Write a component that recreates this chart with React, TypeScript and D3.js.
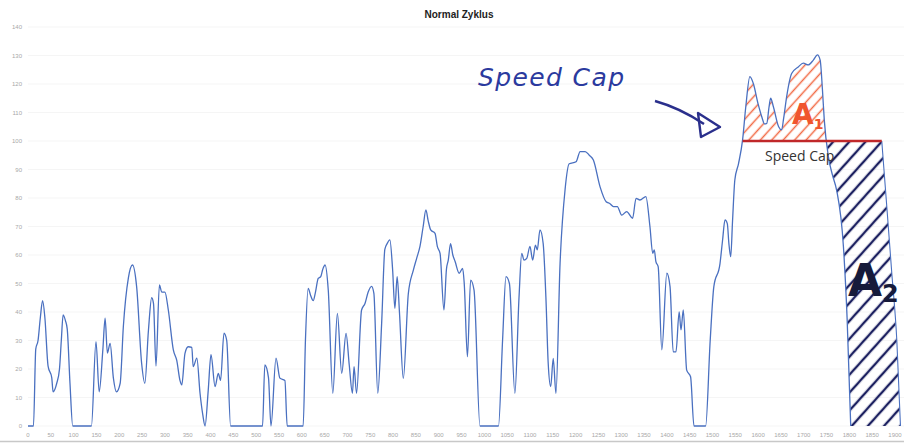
import React, { useEffect, useRef } from "react";
import * as d3 from "d3";

// speed trace, [time s, speed km/h], one array per phase
const LOW_PHASE: [number, number][] = [
  [0, 0], [12, 0], [17, 27], [22, 30], [27, 38], [32, 44], [37, 38], [44, 21], [52, 17], [55, 12],
  [63, 15], [69, 20], [73, 30], [77, 39], [82, 37], [86, 34], [92, 15], [98, 0], [139, 0], [149, 29.6],
  [156, 12], [164, 26.7], [169, 37.8], [174, 25.6], [180, 29], [187, 17], [194, 12], [202, 15], [209, 35],
  [220, 52], [229, 56.5], [238, 49], [249, 22], [256, 15], [264, 33.7], [271, 45], [275, 43], [280.5, 21],
  [288, 49.5], [293, 47], [300, 47], [307.5, 40.7], [318.5, 26.7], [326, 23], [333, 16], [337, 14.4],
  [344, 25.5], [351, 27.8], [359, 27.6], [362, 20.8], [370, 23.8], [377, 11.5], [383, 4], [388, 0],
  [395, 12.6], [401, 25], [410, 13.8], [417, 18.5], [422, 16], [429.5, 32.6], [435.5, 30], [444, 0],
  [514, 0], [519, 21.4], [527, 17], [532.5, 0], [543.5, 23.8], [552, 16.8], [563, 16], [568, 0], [589, 0],
];
const MEDIUM_PHASE: [number, number][] = [
  [603, 0], [608, 30], [614, 48.3], [619, 46], [625, 44], [630, 47], [636, 51.8], [641.5, 52.4], [646, 55],
  [651, 56.5], [658, 47.7], [668, 11.5], [678, 39.5], [687.5, 18.5], [697, 32.5], [704, 21.4], [711, 11.5],
  [714.5, 20.8], [720, 11.5], [731, 40.7], [738.5, 43], [745.5, 47], [753, 49], [758, 46.5], [766.5, 11.5],
  [775, 36], [782, 62], [787, 64], [793, 65.3], [799, 55], [804, 41.3], [809, 52.4], [814, 40], [822.5, 16.7],
  [833.5, 46.5], [844.5, 54.7], [852, 59], [859, 63], [866, 70], [872, 75.8], [877, 72], [882.5, 68.8],
  [892, 67.6], [897, 63], [903, 60.6], [911.5, 40.7], [917, 55], [921, 58.2], [926, 64], [931, 60],
  [936, 57.7], [945, 53.6], [952.5, 55.3], [956, 50], [963, 24.3], [970, 51.2], [977.5, 47.7], [990.5, 0],
  [1022, 0],
];
const HIGH_PHASE: [number, number][] = [
  [1031, 0], [1040, 30], [1047.5, 52.4], [1055, 50], [1067, 11.5], [1076, 45], [1082, 60.6], [1087, 58.2],
  [1093, 58.8], [1100, 63], [1106, 58.2], [1112, 63.5], [1116, 61.8], [1122, 68.8], [1129, 64], [1135, 45],
  [1140, 22], [1145.5, 13.8], [1151, 23.7], [1157, 11.5], [1166, 57], [1177, 83], [1186, 92], [1201, 92.7],
  [1210, 96.3], [1221, 96.3], [1230, 95], [1239, 93.3], [1253.5, 84], [1267, 78.7], [1275.5, 78], [1283, 77],
  [1291.5, 77], [1301, 74], [1312, 75.2], [1325, 72.9], [1332.5, 79.9], [1341, 79.3], [1354, 80.5],
  [1363, 69.9], [1369, 60.6], [1372.5, 61.8], [1376, 57.7], [1381, 55.9], [1389, 26.7], [1400, 53.6],
  [1407, 48.9], [1414, 26], [1420, 26], [1427, 40], [1431, 33.7], [1436, 40.7], [1443.5, 19.6], [1452, 17.3],
  [1459.5, 0], [1477, 0],
];
const EXTRA_HIGH_PHASE: [number, number][] = [
  [1485, 0], [1495, 30], [1503, 48.9], [1516.5, 57], [1522, 65], [1527.5, 72.3], [1532.5, 71], [1536, 64],
  [1540, 59.4], [1544, 72], [1549, 86.3], [1557, 92], [1566, 100.4], [1573, 112], [1582, 122.6],
  [1589.5, 120.2], [1600, 113], [1608, 108.5], [1614, 106], [1619, 106.2], [1624, 112], [1627.5, 115],
  [1633.5, 112], [1645, 105], [1651.5, 103.9], [1656, 108], [1662.5, 115.5], [1673.5, 123.7], [1688, 126],
  [1699, 127.3], [1710, 126.7], [1721, 128.4], [1730, 130.2], [1736, 128.4], [1741, 118], [1745, 107.4],
  [1754, 94.5], [1763, 88], [1772, 82.8], [1787, 62.9], [1795, 38], [1803, 0],
];
// descent of the capped run, drawn by hand on the scan
const CAPPED_TAIL: [number, number][] = [
  [1871, 100], [1882, 77], [1893, 53.6], [1904, 30], [1912, 0],
];

const SPEED_CAP = 100;
const CAP_START = 1566;
const CAP_END = 1871;

const Y_TICKS = d3.range(0, 141, 10);
const X_TICKS = d3.range(0, 1901, 50);

const App = () => {
  const ref = useRef<SVGSVGElement>(null);
  const width = 904;
  const height = 443;

  useEffect(() => {
    const svg = d3.select(ref.current);
    svg.selectAll("*").remove();

    const cycle = [...LOW_PHASE, ...MEDIUM_PHASE, ...HIGH_PHASE, ...EXTRA_HIGH_PHASE];

    const x = d3.scaleLinear().domain([0, 1900]).range([28, 895]);
    const y = d3.scaleLinear().domain([0, 140]).range([426, 27]);

    const defs = svg.append("defs");
    const hatch = (id, color, gap, w) => {
      const p = defs.append("pattern")
        .attr("id", id)
        .attr("patternUnits", "userSpaceOnUse")
        .attr("width", gap).attr("height", gap)
        .attr("patternTransform", "rotate(42)");
      p.append("line")
        .attr("x1", gap / 2).attr("y1", 0).attr("x2", gap / 2).attr("y2", gap)
        .attr("stroke", color).attr("stroke-width", w);
    };
    hatch("hatchRed", "#f26a45", 8.5, 1.5);
    hatch("hatchNavy", "#1c2060", 12, 2.4);

    defs.append("clipPath").attr("id", "clipA1").append("rect")
      .attr("x", x(1555)).attr("y", 0)
      .attr("width", x(1760) - x(1555)).attr("height", y(SPEED_CAP));
    defs.append("clipPath").attr("id", "clipA2").append("rect")
      .attr("x", x(1735)).attr("y", y(SPEED_CAP))
      .attr("width", width - x(1735)).attr("height", y(0) - y(SPEED_CAP));

    // grid
    svg.append("g").selectAll("line").data(Y_TICKS).join("line")
      .attr("x1", 28).attr("x2", width)
      .attr("y1", d => y(d)).attr("y2", d => y(d))
      .attr("stroke", "#f2f2f2").attr("stroke-width", 0.8);

    // tick labels
    svg.append("g").selectAll("text").data(Y_TICKS).join("text")
      .attr("x", 22).attr("y", d => y(d) + 2)
      .attr("text-anchor", "end")
      .attr("font-family", "Liberation Sans, Arial, sans-serif")
      .attr("font-size", 6).attr("fill", "#a8a8a8")
      .text(d => d);
    svg.append("g").selectAll("text").data(X_TICKS).join("text")
      .attr("x", d => x(d)).attr("y", 437)
      .attr("text-anchor", "middle")
      .attr("font-family", "Liberation Sans, Arial, sans-serif")
      .attr("font-size", 6).attr("fill", "#a8a8a8")
      .text(d => d);

    svg.append("line")
      .attr("x1", 0).attr("x2", width).attr("y1", 441.5).attr("y2", 441.5)
      .attr("stroke", "#c8c8c8").attr("stroke-width", 1.5);

    // title
    svg.append("text")
      .attr("x", 459).attr("y", 18)
      .attr("text-anchor", "middle")
      .attr("font-family", "Liberation Sans, Arial, sans-serif")
      .attr("font-weight", "bold").attr("font-size", 10).attr("fill", "#222")
      .text("Normal Zyklus");

    const line = d3.line<[number, number]>()
      .x(d => x(d[0])).y(d => y(d[1]))
      .curve(d3.curveMonotoneX);

    // A1: part of the trace above the cap
    const under = d3.area<[number, number]>()
      .x(d => x(d[0])).y0(y(0)).y1(d => y(d[1]))
      .curve(d3.curveMonotoneX);
    svg.append("path")
      .attr("d", under(EXTRA_HIGH_PHASE))
      .attr("clip-path", "url(#clipA1)")
      .attr("fill", "url(#hatchRed)");

    // A2: extra distance driven with the cap
    const origTail = EXTRA_HIGH_PHASE.filter(d => d[0] >= 1730);
    const tailBack = CAPPED_TAIL.slice().reverse()
      .map(d => `L${x(d[0])},${y(d[1])}`).join("");
    svg.append("path")
      .attr("d", line(origTail) + `L${x(1912)},${y(0)}` + tailBack +
        `L${x(1730)},${y(SPEED_CAP)}Z`)
      .attr("clip-path", "url(#clipA2)")
      .attr("fill", "url(#hatchNavy)");

    // trace
    svg.append("path")
      .attr("d", line(cycle))
      .attr("fill", "none")
      .attr("stroke", "#4a70c0").attr("stroke-width", 1.3);
    svg.append("path")
      .attr("d", line(CAPPED_TAIL))
      .attr("fill", "none")
      .attr("stroke", "#4a70c0").attr("stroke-width", 1.1);

    // speed cap line
    svg.append("line")
      .attr("x1", x(CAP_START)).attr("x2", x(CAP_END))
      .attr("y1", y(SPEED_CAP)).attr("y2", y(SPEED_CAP))
      .attr("stroke", "#c0282a").attr("stroke-width", 2.6);
    svg.append("text")
      .attr("x", 765).attr("y", 161)
      .attr("font-family", "Open Sans, sans-serif")
      .attr("font-size", 14).attr("fill", "#333")
      .text("Speed Cap");

    // handwritten notes
    svg.append("text")
      .attr("x", 478).attr("y", 86)
      .attr("font-family", "DejaVu Sans, sans-serif")
      .attr("font-style", "italic")
      .attr("font-size", 25).attr("fill", "#2b3a9e")
      .attr("textLength", 146)
      .text("Speed Cap");
    svg.append("path")
      .attr("d", "M655,101 Q680,108 704,124")
      .attr("fill", "none").attr("stroke", "#2a2f8c").attr("stroke-width", 2.4);
    svg.append("path")
      .attr("d", "M698,113 L720,127 L701,137 Z")
      .attr("fill", "none").attr("stroke", "#2a2f8c").attr("stroke-width", 2.4)
      .attr("stroke-linejoin", "round");

    const a1 = svg.append("text")
      .attr("x", 792).attr("y", 124)
      .attr("font-family", "DejaVu Sans, sans-serif")
      .attr("font-weight", "bold")
      .attr("font-size", 28).attr("fill", "#f0552e");
    a1.append("tspan").text("A");
    a1.append("tspan").attr("font-size", 14).attr("dy", 5).text("1");

    const a2 = svg.append("text")
      .attr("x", 848).attr("y", 296)
      .attr("font-family", "DejaVu Sans, sans-serif")
      .attr("font-weight", "bold")
      .attr("font-size", 44).attr("fill", "#161a3a");
    a2.append("tspan").text("A");
    a2.append("tspan").attr("font-size", 24).attr("dy", 6).text("2");
  }, []);

  return (
    <div id="chart">
      <svg
        ref={ref}
        width={width}
        height={height}
        style={{ position: "absolute", left: 0, top: 0, background: "#fff" }}
      />
    </div>
  );
};

export default App;
